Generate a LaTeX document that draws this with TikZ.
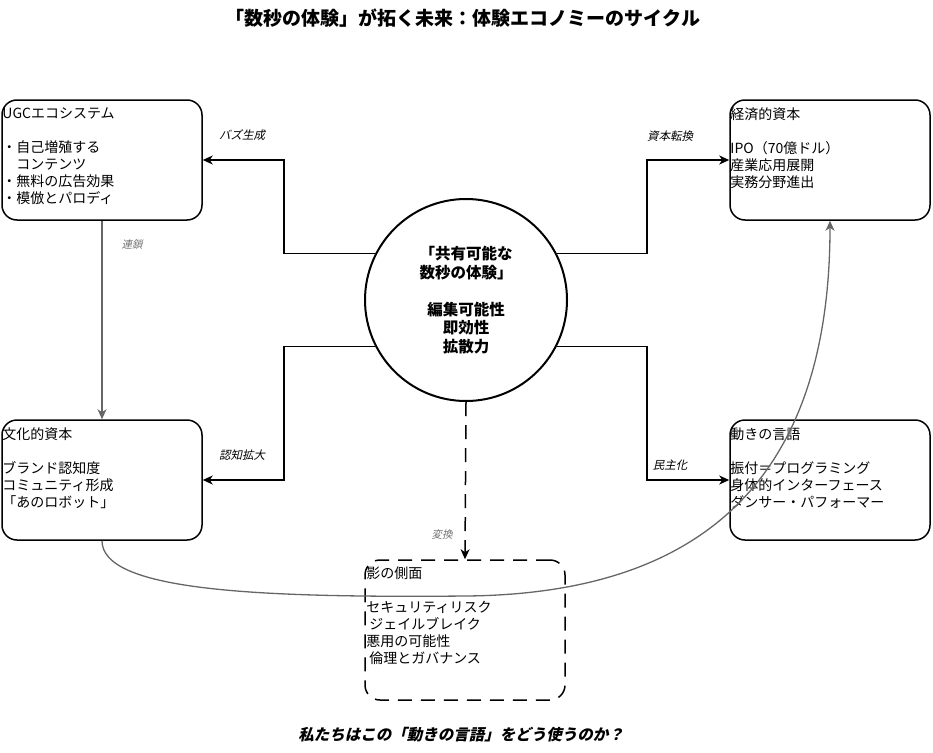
\documentclass[tikz,border=0pt]{standalone}
\usepackage{fontspec}
\setmainfont{Noto Sans CJK JP}
\newfontfamily\slantfont{Noto Sans CJK JP}[FakeSlant=0.22]
\usetikzlibrary{arrows.meta}

\tikzset{
  card/.style={draw, line width=1.5pt, rounded corners=15pt, minimum width=200pt, minimum height=120pt, inner sep=0pt},
  cardtext/.style={anchor=north west, align=left, inner sep=0pt, font=\fontsize{14}{17}\selectfont},
  flow/.style={line width=1.5pt, -{Stealth[length=10pt,width=9pt,inset=3pt]}},
  chain/.style={draw=black!60, line width=1.3pt, -{Stealth[length=10pt,width=9pt,inset=3pt]}},
  tag/.style={font=\fontsize{11.5}{13}\selectfont\slantfont, inner sep=0pt},
  greytag/.style={tag, text=black!55, font=\fontsize{10.5}{12}\selectfont\slantfont},
  shade/.style={dash pattern=on 14pt off 9pt},
}

\begin{document}
\begin{tikzpicture}[x=1pt,y=-1pt]
\useasboundingbox (0,0) rectangle (933,752);

\node[font=\fontsize{19}{22}\selectfont\bfseries] (title) at (463,18) {「数秒の体験」が拓く未来：体験エコノミーのサイクル};

\node[card] (ugc) at (102,160) {};
\node[card] (eco) at (830,160) {};
\node[card] (cul) at (102,480) {};
\node[card] (mov) at (830,480) {};
\node[card, shade, minimum height=140pt] (shadow) at (465,630) {};

\node[cardtext] (ugc-txt) at ([xshift=1pt,yshift=-8.5pt]ugc.north west) {UGCエコシステム\\[17pt]・自己増殖する\\\hspace{1em}コンテンツ\\・無料の広告効果\\・模倣とパロディ};
\node[cardtext] (eco-txt) at ([xshift=1pt,yshift=-8.5pt]eco.north west) {経済的資本\\[17pt]IPO（70億ドル）\\産業応用展開\\実務分野進出};
\node[cardtext] (cul-txt) at ([xshift=1pt,yshift=-8.5pt]cul.north west) {文化的資本\\[17pt]ブランド認知度\\コミュニティ形成\\「あのロボット」};
\node[cardtext] (mov-txt) at ([xshift=1pt,yshift=-8.5pt]mov.north west) {動きの言語\\[17pt]振付＝プログラミング\\身体的インターフェース\\ダンサー・パフォーマー};
\node[cardtext] (shadow-txt) at ([xshift=2pt,yshift=-7pt]shadow.north west) {影の側面\\[17pt]セキュリティリスク\\\hspace{0.2em}ジェイルブレイク\\悪用の可能性\\\hspace{0.2em}倫理とガバナンス};

\node[circle, draw, line width=2pt, minimum size=202pt, align=center, font=\fontsize{15.5}{18.5}\selectfont\bfseries] (core) at (466,300) {「共有可能な\\数秒の体験」\\[18.5pt]編集可能性\\即効性\\拡散力};

\coordinate (bendL) at (284,0);
\coordinate (bendR) at (647,0);
\draw[flow] (core.153) -- (core.153 -| bendL) |- (ugc.east);
\draw[flow] (core.27) -- (core.27 -| bendR) |- (eco.west);
\draw[flow] (core.207) -- (core.207 -| bendL) |- (cul.east);
\draw[flow] (core.333) -- (core.333 -| bendR) |- (mov.west);
\draw[flow, shade] (core.south) -- (shadow.north);

\draw[chain] (ugc.south) -- (cul.north);
\draw[chain] (cul.south) .. controls (102,590) and (250,598) .. (466,596)
  .. controls (680,594) and (830,500) .. (eco.south);

\node[tag] (buzz) at (242,135) {バズ生成};
\node[tag] (capital) at (670,136) {資本転換};
\node[tag] (aware) at (242,455) {認知拡大};
\node[tag] (demo) at (670,465) {民主化};
\node[greytag] (link) at (132,245) {連鎖};
\node[greytag] (convert) at (442,535) {変換};

\node[font=\fontsize{15.5}{18}\selectfont\slantfont\bfseries] (question) at (461,735) {私たちはこの「動きの言語」をどう使うのか？};
\end{tikzpicture}
\end{document}
